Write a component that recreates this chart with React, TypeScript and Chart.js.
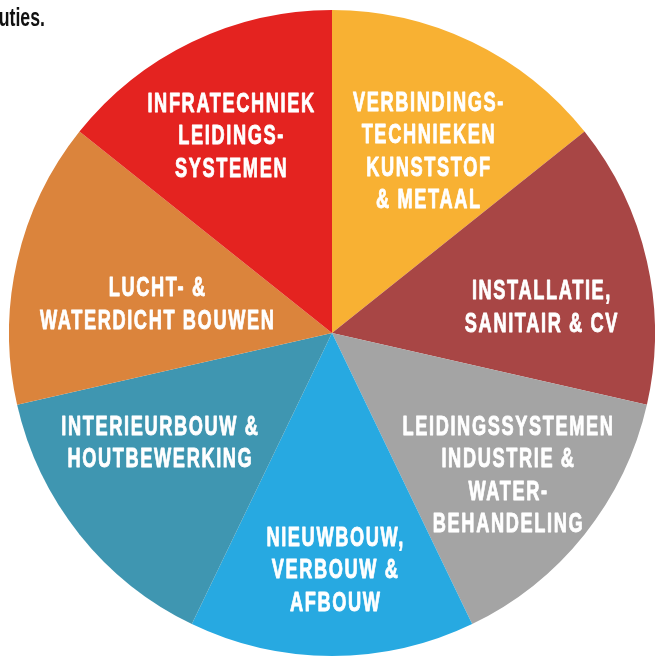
import React, { useEffect, useRef } from "react";
import { Chart, registerables } from "chart.js";

Chart.register(...registerables);

const categories: string[][] = [
  ["VERBINDINGS-", "TECHNIEKEN", "KUNSTSTOF", "& METAAL"],
  ["INSTALLATIE,", "SANITAIR & CV"],
  ["LEIDINGSSYSTEMEN", "INDUSTRIE &", "WATER-", "BEHANDELING"],
  ["NIEUWBOUW,", "VERBOUW &", "AFBOUW"],
  ["INTERIEURBOUW &", "HOUTBEWERKING"],
  ["LUCHT- &", "WATERDICHT BOUWEN"],
  ["INFRATECHNIEK", "LEIDINGS-", "SYSTEMEN"],
];
const values: number[] = [1, 1, 1, 1, 1, 1, 1];
const colors: string[] = ["#F8B133", "#A84645", "#A4A4A4", "#27A9E1", "#3F96B1", "#DB843C", "#E42320"];
// label anchor: [fraction of radius, angle in degrees clockwise from top]
const labelAnchors: number[][] = [
  [0.64, 27.7],
  [0.653, 82.6],
  [0.697, 128.7],
  [0.73, 179.3],
  [0.63, 237.9],
  [0.55, 279.7],
  [0.69, 333],
];

const labelPlugin = {
  id: "sliceLabels",
  afterDatasetsDraw(chart: any) {
    const ctx = chart.ctx as CanvasRenderingContext2D;
    const meta = chart.getDatasetMeta(0);
    const sx = 0.65;
    const fs = 28;
    ctx.save();
    ctx.fillStyle = "#ffffff";
    ctx.strokeStyle = "#ffffff";
    ctx.lineWidth = 0.9;
    ctx.lineJoin = "round";
    ctx.textAlign = "center";
    ctx.textBaseline = "alphabetic";
    ctx.font = `bold ${fs}px 'Liberation Sans', Arial, sans-serif`;
    (ctx as any).letterSpacing = "2.5px";
    meta.data.forEach((arc: any, i: number) => {
      const p = arc.getProps(["x", "y", "outerRadius"], true);
      const [f, deg] = labelAnchors[i];
      const a = (deg * Math.PI) / 180;
      const cx = p.x + Math.sin(a) * p.outerRadius * f;
      const cy = p.y - Math.cos(a) * p.outerRadius * f;
      const lines = categories[i];
      const lh = 32.5;
      const top = cy - ((lines.length - 1) * lh) / 2;
      lines.forEach((l, j) => {
        ctx.save();
        ctx.translate(cx, top + j * lh + fs * 0.345);
        ctx.scale(sx, 1);
        ctx.fillText(l, 1.25, 0);
        ctx.strokeText(l, 1.25, 0);
        ctx.restore();
      });
    });
    ctx.restore();
  },
};

export default function App() {
  const ref = useRef<HTMLCanvasElement>(null);
  useEffect(() => {
    if (!ref.current) return;
    const chart = new Chart(ref.current, {
      type: "pie",
      data: {
        labels: categories.map((c) => c.join(" ")),
        datasets: [{ data: values, backgroundColor: colors, borderWidth: 0 }],
      },
      options: {
        responsive: false,
        animation: false,
        layout: { padding: 0 },
        plugins: { legend: { display: false }, tooltip: { enabled: false } },
      },
      plugins: [labelPlugin],
    });
    return () => chart.destroy();
  }, []);
  return (
    <div style={{ position: "fixed", left: 0, top: 0, width: 655, height: 657, overflow: "hidden", background: "#fff" }}>
      <div style={{ position: "absolute", left: 9, top: 10, width: 646, height: 646 }}>
        <canvas ref={ref} width={646} height={646} />
      </div>
      <div
        style={{
          position: "absolute",
          right: 655 - 45,
          top: 2,
          fontFamily: "'Liberation Sans', Arial, sans-serif",
          fontWeight: "bold",
          fontSize: 26,
          lineHeight: "30px",
          color: "#111",
          whiteSpace: "nowrap",
          transform: "scaleX(0.68)",
          transformOrigin: "right center",
        }}
      >
        uties.
      </div>
    </div>
  );
}
